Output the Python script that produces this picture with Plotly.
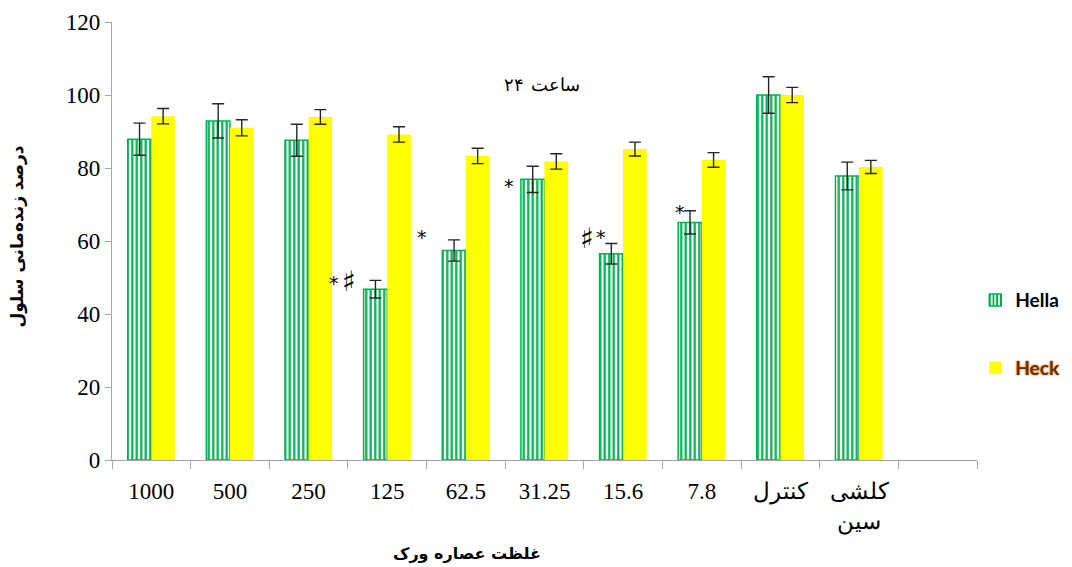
import plotly.graph_objects as go

# Concentrations of the extract (µg/ml) plus the two reference groups
categories = ["1000", "500", "250", "125", "62.5", "31.25", "15.6", "7.8", "کنترل", "کلشی<br>سین"]
spare_category = "\u200b"  # empty slot at the right end of the axis

hella_values = [87.9, 92.9, 87.6, 46.8, 57.4, 76.9, 56.5, 65.1, 100.0, 77.8]
hella_errors = [4.4, 4.7, 4.4, 2.4, 2.9, 3.6, 2.8, 3.2, 5.0, 3.8]

heck_values = [94.2, 91.0, 94.0, 89.2, 83.3, 81.8, 85.2, 82.2, 100.0, 80.3]
heck_errors = [2.1, 2.2, 2.0, 2.1, 2.1, 2.1, 1.9, 2.0, 2.1, 1.8]

# Significance marks beside the Hella bars: asterisks and sharps
star_categories = ["125", "62.5", "31.25", "15.6", "7.8"]
star_levels = [48.5, 61.1, 75.1, 61.1, 67.9]
star_shifts = [-53, -44, -36, -22, -22]

sharp_categories = ["125", "15.6"]
sharp_levels = [48.8, 60.8]
sharp_shifts = [-38, -36]

GREEN = "#00b050"
YELLOW = "#ffff00"
AXIS = "#a6a6a6"
SERIF = "Liberation Serif, Times New Roman, DejaVu Serif, serif"
PERSIAN = "DejaVu Sans, Noto Sans, sans-serif"

all_categories = categories + [spare_category]

fig = go.Figure()

fig.add_trace(go.Bar(
    x=all_categories, y=hella_values + [None], name="Hella", showlegend=True,
    marker=dict(color="white", line=dict(color=GREEN, width=1.5),
                pattern=dict(shape="|", fgcolor=GREEN, bgcolor="white",
                             size=4.5, solidity=0.5, fillmode="replace")),
    error_y=dict(type="data", array=hella_errors + [0], visible=True,
                 color="#262626", thickness=1.4, width=6),
    legend="legend",
))

fig.add_trace(go.Bar(
    x=categories, y=heck_values, name="Heck", showlegend=True,
    marker=dict(color=YELLOW, line=dict(width=0)),
    error_y=dict(type="data", array=heck_errors, visible=True,
                 color="#262626", thickness=1.4, width=6),
    legend="legend2",
))

annotations = []
for cat, lvl, sh in zip(star_categories, star_levels, star_shifts):
    annotations.append(dict(
        x=all_categories.index(cat), y=lvl, xref="x", yref="y", text="*", showarrow=False,
        xshift=sh, font=dict(family="DejaVu Sans, sans-serif", size=19, color="black"),
    ))
for cat, lvl, sh in zip(sharp_categories, sharp_levels, sharp_shifts):
    annotations.append(dict(
        x=all_categories.index(cat), y=lvl, xref="x", yref="y", text="♯", showarrow=False,
        xshift=sh, font=dict(family="DejaVu Sans, sans-serif", size=28, color="black"),
    ))

# Chart title: the hour count on the left, the word on the right
annotations.append(dict(
    x=0.479, y=0.884, xref="paper", yref="paper", text="۲۴",
    showarrow=False, xanchor="right", font=dict(family=SERIF, size=18, color="black"),
))
annotations.append(dict(
    x=0.482, y=0.884, xref="paper", yref="paper", text="ساعت",
    showarrow=False, xanchor="left", font=dict(family=SERIF, size=18, color="black"),
))
# Axis titles
annotations.append(dict(
    x=-0.1087, y=0.51, xref="paper", yref="paper", text="<b>درصد زنده‌مانی سلول</b>",
    showarrow=False, textangle=-90, xanchor="center", yanchor="middle",
    font=dict(family=PERSIAN, size=17, color="black"),
))
annotations.append(dict(
    x=0.41, y=-0.213, xref="paper", yref="paper", text="<b>غلظت عصاره ورک</b>",
    showarrow=False, xanchor="center", yanchor="middle",
    font=dict(family=PERSIAN, size=16, color="black"),
))

fig.update_layout(
    width=1072, height=567,
    margin=dict(l=112, r=95, t=22, b=107, autoexpand=False),
    plot_bgcolor="white", paper_bgcolor="white",
    showlegend=True,
    barmode="group", bargap=0.4, bargroupgap=0.0,
    annotations=annotations,
    legend=dict(
        x=0.998, y=0.365, xanchor="left", yanchor="middle", visible=True,
        font=dict(family="Lato, Liberation Sans, sans-serif", size=19, color="black", weight="bold"),
        bgcolor="rgba(0,0,0,0)", itemwidth=30,
    ),
    legend2=dict(
        x=0.998, y=0.21, xanchor="left", yanchor="middle", visible=True,
        font=dict(family="Lato, Liberation Sans, sans-serif", size=19, color="#6b2e0a", weight="bold",
                  shadow="0px 0px 2px #f08a30, 0px 0px 2px #f08a30"),
        bgcolor="rgba(0,0,0,0)", itemwidth=30,
    ),
    xaxis=dict(
        type="category",
        categoryorder="array", categoryarray=all_categories,
        range=[-0.5, 10.5],
        tickson="boundaries", ticks="outside", ticklen=8, tickcolor=AXIS,
        showline=True, linecolor=AXIS, linewidth=1.3,
        tickfont=dict(family=SERIF, size=23, color="black"),
        ticklabelstandoff=10,
        showgrid=False, zeroline=False,
    ),
    yaxis=dict(
        range=[0, 120], dtick=20, tick0=0,
        ticks="outside", ticklen=6, tickcolor=AXIS,
        showline=True, linecolor=AXIS, linewidth=1.3,
        tickfont=dict(family=SERIF, size=23, color="black"),
        showgrid=False, zeroline=False,
    ),
)

fig.write_html("out.html")
